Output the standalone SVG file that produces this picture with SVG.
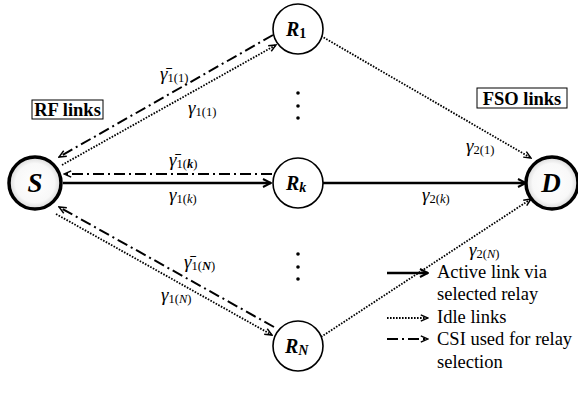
<svg xmlns="http://www.w3.org/2000/svg" width="578" height="409" viewBox="0 0 578 409" font-family="'Liberation Serif', 'DejaVu Serif', serif">
<defs>
<radialGradient id="grad" cx="50%" cy="50%" r="50%">
<stop offset="0%" stop-color="#ffffff"/>
<stop offset="75%" stop-color="#f8f8f8"/>
<stop offset="100%" stop-color="#d8d8d8"/>
</radialGradient>
<marker id="a" viewBox="0 0 10 10" refX="9" refY="5" markerWidth="10" markerHeight="10" markerUnits="userSpaceOnUse" orient="auto">
<path d="M1,1 L9,5 L1,9" fill="none" stroke="#000" stroke-width="2"/>
</marker>
<marker id="as" viewBox="0 0 10 10" refX="9" refY="5" markerWidth="9" markerHeight="9" markerUnits="userSpaceOnUse" orient="auto">
<path d="M1,1.5 L9,5 L1,8.5" fill="none" stroke="#000" stroke-width="1.6"/>
</marker>
</defs>
<style>
.big{fill:url(#grad);stroke:#000;stroke-width:3.5}
.rel{fill:#fff;stroke:#000;stroke-width:1.6}
.solid{stroke:#000;stroke-width:2.5;fill:none}
.dot{stroke:#000;stroke-width:1.8;stroke-dasharray:1.6 1.4;fill:none}
.dd{stroke:#000;stroke-width:2;stroke-dasharray:11 4 2 4;fill:none}
.nl{font-weight:bold;font-style:italic}
.gm{font-style:italic;font-size:19px}
.sub{font-size:12.5px;font-style:normal}
.lg{font-size:18.5px}
.box{font-weight:bold;font-size:18.5px}
</style>
<g id="connectors">
<line class="solid" x1="63" y1="183" x2="271" y2="183" marker-end="url(#a)"/>
<line class="dd" x1="272" y1="174" x2="64" y2="174" marker-end="url(#as)"/>
<line class="solid" x1="323" y1="183" x2="526" y2="183" marker-end="url(#a)"/>
<line class="dot" x1="62" y1="165" x2="276" y2="45" marker-end="url(#as)"/>
<line class="dd" x1="273" y1="35" x2="59" y2="157" marker-end="url(#as)"/>
<line class="dot" x1="56" y1="214" x2="272" y2="335" marker-end="url(#as)"/>
<line class="dd" x1="274" y1="327" x2="59" y2="207" marker-end="url(#as)"/>
<line class="dot" x1="321" y1="36" x2="531" y2="158" marker-end="url(#as)"/>
<line class="dot" x1="321" y1="337" x2="531" y2="199" marker-end="url(#as)"/>
</g>
<g id="S"><circle class="big" cx="35" cy="183" r="26"/><text class="nl" x="35" y="192" font-size="27" text-anchor="middle">S</text></g>
<g id="D"><circle class="big" cx="552" cy="183" r="26"/><text class="nl" x="551" y="192" font-size="27" text-anchor="middle">D</text></g>
<g id="R1"><circle class="rel" cx="298" cy="29" r="25"/><text class="nl" x="286" y="36" font-size="20">R<tspan font-style="normal" font-size="14" dy="2">1</tspan></text></g>
<g id="Rk"><circle class="rel" cx="298" cy="183" r="25"/><text class="nl" x="286" y="190" font-size="20">R<tspan font-size="14" dy="2">k</tspan></text></g>
<g id="RN"><circle class="rel" cx="298" cy="346" r="25"/><text class="nl" x="285" y="353" font-size="20">R<tspan font-size="14" dy="2">N</tspan></text></g>
<g id="dots" fill="#000">
<circle cx="298" cy="93" r="1.8"/><circle cx="298" cy="106" r="1.8"/><circle cx="298" cy="118" r="1.8"/>
<circle cx="298" cy="254" r="1.8"/><circle cx="298" cy="267" r="1.8"/><circle cx="298" cy="279" r="1.8"/>
</g>
<g id="labels">
<text class="gm" x="160" y="80">γ̄<tspan class="sub" dy="2">1(1)</tspan></text>
<text class="gm" x="188" y="114">γ<tspan class="sub" dy="2">1(1)</tspan></text>
<text class="gm" x="169" y="166">γ̄<tspan class="sub" dy="2">1(<tspan font-style="italic" font-weight="bold">k</tspan>)</tspan></text>
<text class="gm" x="169" y="201">γ<tspan class="sub" dy="2">1(<tspan font-style="italic">k</tspan>)</tspan></text>
<text class="gm" x="466" y="152">γ<tspan class="sub" dy="2">2(1)</tspan></text>
<text class="gm" x="422" y="201">γ<tspan class="sub" dy="2">2(<tspan font-style="italic">k</tspan>)</tspan></text>
<text class="gm" x="469" y="256">γ<tspan class="sub" dy="2">2(<tspan font-style="italic">N</tspan>)</tspan></text>
<text class="gm" x="184" y="268">γ̄<tspan class="sub" dy="2">1(<tspan font-style="italic" font-weight="bold">N</tspan>)</tspan></text>
<text class="gm" x="161" y="301">γ<tspan class="sub" dy="2">1(<tspan font-style="italic">N</tspan>)</tspan></text>
</g>
<g id="rf"><rect x="32" y="100" width="71" height="19" fill="#fff" stroke="#000" stroke-width="1"/><text class="box" x="67.5" y="116" text-anchor="middle">RF links</text></g>
<g id="fso"><rect x="477" y="88" width="90" height="20" fill="#fff" stroke="#000" stroke-width="1"/><text class="box" x="522" y="104.5" text-anchor="middle">FSO links</text></g>
<g id="legend">
<line class="solid" stroke-width="2" x1="387" y1="273" x2="428" y2="273" marker-end="url(#a)"/>
<line class="dot" stroke-width="1.5" x1="387" y1="318" x2="428" y2="318" marker-end="url(#as)"/>
<line class="dd" stroke-width="1.5" stroke-dasharray="7 4 2 4" x1="387" y1="339" x2="428" y2="339" marker-end="url(#as)"/>
<text class="lg" x="437" y="278">Active link via</text>
<text class="lg" x="437" y="300">selected relay</text>
<text class="lg" x="437" y="323">Idle links</text>
<text class="lg" x="437" y="345">CSI used for relay</text>
<text class="lg" x="437" y="368">selection</text>
</g>
</svg>
